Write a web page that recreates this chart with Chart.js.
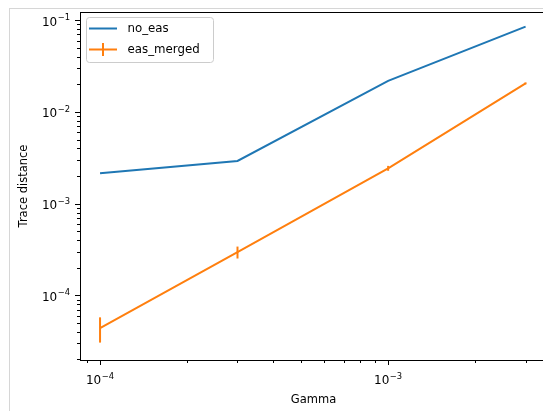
<!DOCTYPE html>
<html>
<head>
<meta charset="utf-8">
<script src="https://cdn.jsdelivr.net/npm/chart.js@4"></script>
<style>
  body { margin: 0; background: #fff; overflow: hidden; }
  #wrap { position: absolute; left: 0; top: 0; width: 560px; height: 411px; }
  #frame { position: absolute; left: 9px; top: 8px; width: 600px; height: 500px;
           border-left: 1px solid #d6d6d6; border-top: 1px solid #d6d6d6; pointer-events: none; }
</style>
</head>
<body>
<div id="wrap"><canvas id="myChart" width="560" height="411"></canvas></div>
<div id="frame"></div>
<script>
// data
const gamma = [1e-4, 3e-4, 1e-3, 3e-3];
const noEas = [0.00214, 0.00292, 0.0218, 0.0853];
const easMerged = [4.4e-5, 2.96e-4, 2.43e-3, 0.0205];
const easErr = [1.35e-5, 4.4e-5, 1.5e-4, 5e-4];

// tick labels as base^exponent
const xTicks = [1e-4, 1e-3];
const xTickLabels = ['10^−4', '10^−3'];
const yTicks = [1e-4, 1e-3, 1e-2, 1e-1];
const yTickLabels = ['10^−4', '10^−3', '10^−2', '10^−1'];

const blue = '#1f77b4';
const orange = '#ff7f0e';
const fontFamily = 'DejaVu Sans';
const tickFont = 12;

// minor tick positions 2..9 x 10^k
function minorTicks(lo, hi) {
    const out = [];
    for (let k = -6; k <= 1; k++) {
        for (let m = 1; m <= 9; m++) {
            const v = m * Math.pow(10, k);
            if (v >= lo && v <= hi) out.push({ v: v, major: m === 1 });
        }
    }
    return out;
}

// draws "10" with a raised exponent, like mathtext
function drawPow(ctx, label, x, y, align) {
    const parts = label.split('^');
    ctx.font = tickFont + 'px "' + fontFamily + '"';
    const w1 = ctx.measureText(parts[0]).width;
    ctx.font = (tickFont * 0.7) + 'px "' + fontFamily + '"';
    const w2 = ctx.measureText(parts[1]).width;
    const w = w1 + 0.5 + w2;
    const x0 = align === 'right' ? x - w : x - w / 2;
    ctx.textAlign = 'left';
    ctx.textBaseline = 'alphabetic';
    ctx.font = tickFont + 'px "' + fontFamily + '"';
    ctx.fillText(parts[0], x0, y);
    ctx.font = (tickFont * 0.7) + 'px "' + fontFamily + '"';
    ctx.fillText(parts[1], x0 + w1 + 0.5, y - tickFont * 0.45);
}

// frame, ticks, error bars and legend, matplotlib style
const mplPlugin = {
    id: 'mpl',
    afterDatasetsDraw(chart) {
        const ctx = chart.ctx;
        const xs = chart.scales.x;
        const ys = chart.scales.y;
        const a = chart.chartArea;

        // error bars
        ctx.save();
        ctx.strokeStyle = orange;
        ctx.lineWidth = 2;
        for (let i = 0; i < gamma.length; i++) {
            const px = xs.getPixelForValue(gamma[i]);
            const y1 = ys.getPixelForValue(easMerged[i] - easErr[i]);
            const y2 = ys.getPixelForValue(easMerged[i] + easErr[i]);
            ctx.beginPath();
            ctx.moveTo(px, y1);
            ctx.lineTo(px, y2);
            ctx.stroke();
        }
        ctx.restore();

        // spines
        ctx.save();
        ctx.strokeStyle = '#000';
        ctx.lineWidth = 1;
        ctx.strokeRect(Math.round(a.left) + 0.5, Math.round(a.top) + 0.5,
            Math.round(a.right - a.left), Math.round(a.bottom - a.top));

        // tick marks
        ctx.beginPath();
        minorTicks(xs.min, xs.max).forEach(t => {
            const px = Math.round(xs.getPixelForValue(t.v)) + 0.5;
            ctx.moveTo(px, a.bottom);
            ctx.lineTo(px, a.bottom + (t.major ? 5 : 3));
        });
        minorTicks(ys.min, ys.max).forEach(t => {
            const py = Math.round(ys.getPixelForValue(t.v)) + 0.5;
            ctx.moveTo(a.left, py);
            ctx.lineTo(a.left - (t.major ? 5 : 3), py);
        });
        ctx.stroke();

        // tick labels
        ctx.fillStyle = '#000';
        xTicks.forEach((v, i) => {
            drawPow(ctx, xTickLabels[i], xs.getPixelForValue(v), a.bottom + 24, 'center');
        });
        yTicks.forEach((v, i) => {
            drawPow(ctx, yTickLabels[i], a.left - 10, ys.getPixelForValue(v) + 5.5, 'right');
        });
        ctx.restore();

        // legend
        ctx.save();
        const lx = 86, ly = 17, lw = 127, lh = 45, r = 3;
        ctx.fillStyle = 'rgba(255,255,255,0.8)';
        ctx.strokeStyle = '#cccccc';
        ctx.lineWidth = 1;
        ctx.beginPath();
        ctx.roundRect(lx + 0.5, ly + 0.5, lw, lh, r);
        ctx.fill();
        ctx.stroke();

        ctx.lineWidth = 2;
        ctx.strokeStyle = blue;
        ctx.beginPath();
        ctx.moveTo(89, 28.5);
        ctx.lineTo(117, 28.5);
        ctx.stroke();

        ctx.strokeStyle = orange;
        ctx.beginPath();
        ctx.moveTo(89, 49.5);
        ctx.lineTo(117, 49.5);
        ctx.moveTo(103, 43);
        ctx.lineTo(103, 56);
        ctx.stroke();

        ctx.fillStyle = '#000';
        ctx.font = '11.8px "' + fontFamily + '"';
        ctx.textBaseline = 'middle';
        ctx.fillText(chart.data.datasets[0].label, 127.5, 29);
        ctx.fillText(chart.data.datasets[1].label, 127.5, 50);
        ctx.restore();
    }
};

const ctx = document.getElementById('myChart').getContext('2d');
const myChart = new Chart(ctx, {
    type: 'line',
    data: {
        datasets: [{
            label: 'no_eas',
            data: gamma.map((g, i) => ({ x: g, y: noEas[i] })),
            borderColor: blue,
            backgroundColor: blue,
            borderWidth: 2,
            pointRadius: 0,
            tension: 0
        }, {
            label: 'eas_merged',
            data: gamma.map((g, i) => ({ x: g, y: easMerged[i] })),
            borderColor: orange,
            backgroundColor: orange,
            borderWidth: 2,
            pointRadius: 0,
            tension: 0
        }]
    },
    options: {
        responsive: false,
        animation: false,
        layout: { padding: { top: 12, right: 13, left: 0, bottom: 0 } },
        plugins: {
            legend: { display: false },
            tooltip: { enabled: false }
        },
        scales: {
            x: {
                type: 'logarithmic',
                min: 8.52e-5,
                max: 3.56e-3,
                grid: { display: false, drawTicks: false },
                border: { display: false },
                afterBuildTicks: function(scale) {
                    scale.ticks = xTicks.map(v => ({ value: v }));
                },
                afterFit: function(scale) { scale.height = 51; },
                ticks: { display: false },
                title: {
                    display: true,
                    text: 'Gamma',
                    color: '#000',
                    font: { family: fontFamily, size: 11.5 },
                    padding: { top: 0, bottom: 4 }
                }
            },
            y: {
                type: 'logarithmic',
                min: 1.97e-5,
                max: 0.123,
                grid: { display: false, drawTicks: false },
                border: { display: false },
                afterBuildTicks: function(scale) {
                    scale.ticks = yTicks.map(v => ({ value: v }));
                },
                afterFit: function(scale) { scale.width = 80; },
                ticks: { display: false },
                title: {
                    display: true,
                    text: 'Trace distance',
                    color: '#000',
                    font: { family: fontFamily, size: 11.5 },
                    padding: { top: 17, bottom: 0 }
                }
            }
        }
    },
    plugins: [mplPlugin]
});
</script>
</body>
</html>
